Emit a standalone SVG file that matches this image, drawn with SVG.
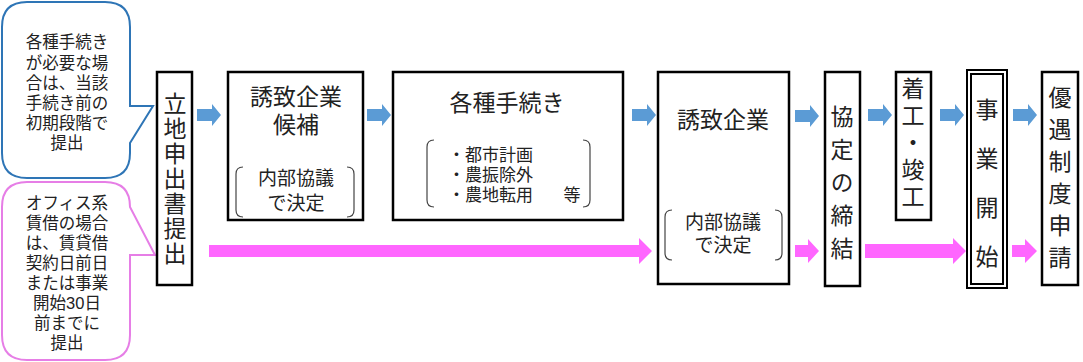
<svg xmlns="http://www.w3.org/2000/svg" xmlns:xlink="http://www.w3.org/1999/xlink" width="1083" height="362" viewBox="0 0 1083 362">
<style>
text{font-family:"Liberation Sans","Noto Sans CJK JP",sans-serif;fill:#222;dominant-baseline:central;text-anchor:middle}
.v{font-family:"Noto Sans CJK JP","Noto Sans",sans-serif;writing-mode:vertical-rl;font-size:23px}
.box{fill:#fff;stroke:#000;stroke-width:2.5}
.br{fill:none;stroke:#444;stroke-width:1.2}
.t24{font-size:23px}
.t20{font-size:19px}
.t18{font-size:17px}
.t17{font-size:16.5px}
.blue{fill:#5b9bd5}
.pink{fill:#ff66ff}
</style>
<defs>
<path id="ba" d="M0,-6 H15 V-11 L24,0 L15,11 V6 H0 Z"/>
</defs>
<rect width="1083" height="362" fill="#fff"/>

<g id="callout1">
<path d="M27,2 H105 Q130,2 130,27 V106 H153 L130,143 V153 Q130,178 105,178 H27 Q2,178 2,153 V27 Q2,2 27,2 Z" fill="#fff" stroke="#2e75b6" stroke-width="2"/>
<text class="t17" x="67" y="42">各種手続き</text>
<text class="t17" x="67" y="63">が必要な場</text>
<text class="t17" x="67" y="83">合は、当該</text>
<text class="t17" x="67" y="103">手続き前の</text>
<text class="t17" x="67" y="123">初期段階で</text>
<text class="t17" x="67" y="143">提出</text>
</g>

<g id="callout2">
<path d="M27,182 H105 Q130,182 130,207 L155,255 H130 V335 Q130,360 105,360 H27 Q2,360 2,335 V207 Q2,182 27,182 Z" fill="#fff" stroke="#e67ee6" stroke-width="2"/>
<text class="t17" x="67" y="203">オフィス系</text>
<text class="t17" x="67" y="223">賃借の場合</text>
<text class="t17" x="67" y="243">は、賃貸借</text>
<text class="t17" x="67" y="263">契約日前日</text>
<text class="t17" x="67" y="283">または事業</text>
<text class="t17" x="67" y="303">開始30日</text>
<text class="t17" x="67" y="323">前までに</text>
<text class="t17" x="67" y="343">提出</text>
</g>

<g id="node-ritchi">
<rect class="box" x="157" y="72" width="35" height="213"/>
<text class="v" x="175" y="179" letter-spacing="2">立地申出書提出</text>
</g>

<g id="node-kouho">
<rect class="box" x="228" y="72" width="135" height="148"/>
<text class="t24" x="296" y="97">誘致企業</text>
<text class="t24" x="296" y="125">候補</text>
<path class="br" d="M243,167 Q236,167 236,174 V210 Q236,217 243,217"/>
<path class="br" d="M347,167 Q354,167 354,174 V210 Q354,217 347,217"/>
<text class="t20" x="296" y="178">内部協議</text>
<text class="t20" x="296" y="203">で決定</text>
</g>

<g id="node-tetsuzuki">
<rect class="box" x="393" y="72" width="230" height="148"/>
<text class="t24" x="507" y="103">各種手続き</text>
<path class="br" d="M434,140 Q427,140 427,147 V200 Q427,207 434,207"/>
<path class="br" d="M583,140 Q590,140 590,147 V200 Q590,207 583,207"/>
<text class="t18" x="448" y="155" style="text-anchor:start">・都市計画</text>
<text class="t18" x="448" y="175" style="text-anchor:start">・農振除外</text>
<text class="t18" x="448" y="195" style="text-anchor:start">・農地転用</text>
<text class="t18" x="572" y="195">等</text>
</g>

<g id="node-kigyou">
<rect class="box" x="658" y="72" width="131" height="212"/>
<text class="t24" x="723" y="120">誘致企業</text>
<path class="br" d="M672,210 Q665,210 665,217 V253 Q665,260 672,260"/>
<path class="br" d="M775,210 Q782,210 782,217 V253 Q782,260 775,260"/>
<text class="t20" x="723" y="222">内部協議</text>
<text class="t20" x="723" y="245">で決定</text>
</g>

<g id="node-kyoutei">
<rect class="box" x="825" y="72" width="35" height="214"/>
<text class="v" x="842" y="187" letter-spacing="10">協定の締結</text>
</g>

<g id="node-chakkou">
<rect class="box" x="896" y="72" width="35" height="148"/>
<text class="v" x="913" y="144" letter-spacing="4">着工・竣工</text>
</g>

<g id="node-kaishi">
<rect x="967" y="70" width="40" height="218" fill="#fff" stroke="#000" stroke-width="2"/>
<rect x="971" y="74" width="32" height="210" fill="none" stroke="#000" stroke-width="2"/>
<text class="v" x="987" y="196" letter-spacing="26">事業開始</text>
</g>

<g id="node-yuuguu">
<rect class="box" x="1042" y="72" width="36" height="213"/>
<text class="v" x="1060" y="182" letter-spacing="9">優遇制度申請</text>
</g>

<g id="connectors">
<use href="#ba" class="blue" x="197" y="115"/>
<use href="#ba" class="blue" x="367" y="115"/>
<use href="#ba" class="blue" x="632" y="115"/>
<use href="#ba" class="blue" x="795" y="116"/>
<use href="#ba" class="blue" x="868" y="115"/>
<use href="#ba" class="blue" x="940" y="115"/>
<use href="#ba" class="blue" x="1013" y="115"/>
<path class="pink" d="M209,245 H639 V238 L652,251 L639,264 V257 H209 Z"/>
<path class="pink" d="M795,245 H808 V239 L819,251 L808,263 V257 H795 Z"/>
<path class="pink" d="M865,244 H953 V238 L966,251 L953,264 V258 H865 Z"/>
<path class="pink" d="M1012,245 H1025 V239 L1037,251 L1025,263 V257 H1012 Z"/>
</g>
</svg>
